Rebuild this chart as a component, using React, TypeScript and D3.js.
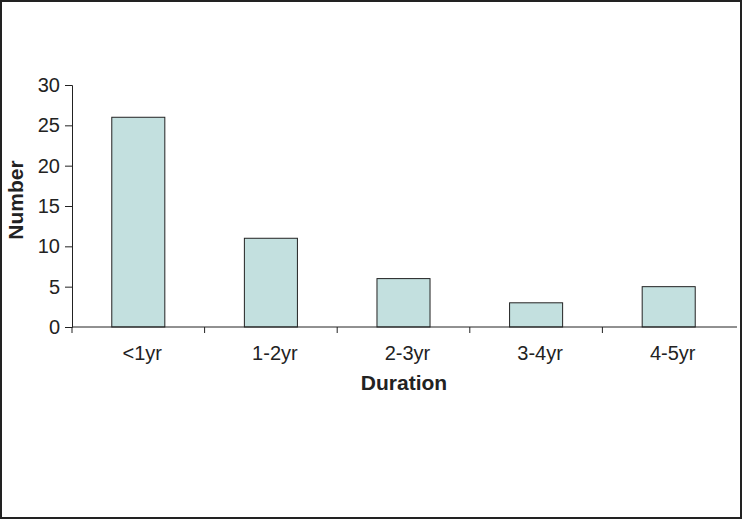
import { useEffect, useRef } from 'react';
import * as d3 from 'd3';

const categories = ['<1yr', '1-2yr', '2-3yr', '3-4yr', '4-5yr'];
const counts = [26, 11, 6, 3, 5];
const yTicks = [0, 5, 10, 15, 20, 25, 30];

export default function App() {
  const svgRef = useRef<SVGSVGElement>(null);

  useEffect(() => {
    if (!svgRef.current) return;
    const svg = d3.select(svgRef.current);
    svg.selectAll('*').remove();

    const W = 743, H = 520;
    const left = 72, right = 735, top = 85, bottom = 327;
    const font = 'Liberation Sans, Arial, sans-serif';

    svg.append('rect').attr('x', 1).attr('y', 1).attr('width', W - 3).attr('height', H - 3)
      .attr('fill', '#fff').attr('stroke', '#222').attr('stroke-width', 2);

    const x = d3.scaleBand().domain(categories).range([left, right]).paddingInner(0.6).paddingOuter(0.3);
    const y = d3.scaleLinear().domain([0, 30]).range([bottom, top]);

    svg.selectAll('rect.bar').data(counts).join('rect').attr('class', 'bar')
      .attr('x', (d, i) => x(categories[i])!).attr('y', d => y(d))
      .attr('width', x.bandwidth()).attr('height', d => bottom - y(d))
      .attr('fill', '#c3e0df').attr('stroke', '#222').attr('stroke-width', 1);

    // y axis
    const ya = svg.append('g').attr('transform', `translate(${left},0)`)
      .call(d3.axisLeft(y).tickValues(yTicks).tickSize(7).tickPadding(5));
    ya.select('.domain').attr('stroke', '#222');
    ya.selectAll('line').attr('stroke', '#222');
    ya.selectAll('text').style('font-family', font).style('font-size', '20px').attr('fill', '#222');

    // x axis with ticks between categories
    const xa = svg.append('g').attr('transform', `translate(0,${bottom})`);
    xa.append('line').attr('x1', left).attr('x2', right + 2).attr('y1', 0).attr('y2', 0).attr('stroke', '#222');
    const step = x.step();
    categories.forEach((c, i) => {
      const bx = left + i * step;
      xa.append('line').attr('x1', bx).attr('x2', bx).attr('y1', 0).attr('y2', 6).attr('stroke', '#222');
      xa.append('text').attr('x', x(c)! + x.bandwidth() / 2 + 4).attr('y', 33)
        .attr('text-anchor', 'middle').style('font-family', font).style('font-size', '20px')
        .attr('fill', '#222').text(c);
    });

    svg.append('text').attr('x', 404).attr('y', 390)
      .attr('text-anchor', 'middle').style('font-family', font).style('font-size', '21px')
      .style('font-weight', 'bold').attr('fill', '#222').text('Duration');

    svg.append('text').attr('transform', 'translate(23,200) rotate(-90)')
      .attr('text-anchor', 'middle').style('font-family', font).style('font-size', '21px')
      .style('font-weight', 'bold').attr('fill', '#222').text('Number');
  }, []);

  return <svg ref={svgRef} width={743} height={520} style={{ display: 'block', position: 'absolute', left: 0, top: 0 }} />;
}
